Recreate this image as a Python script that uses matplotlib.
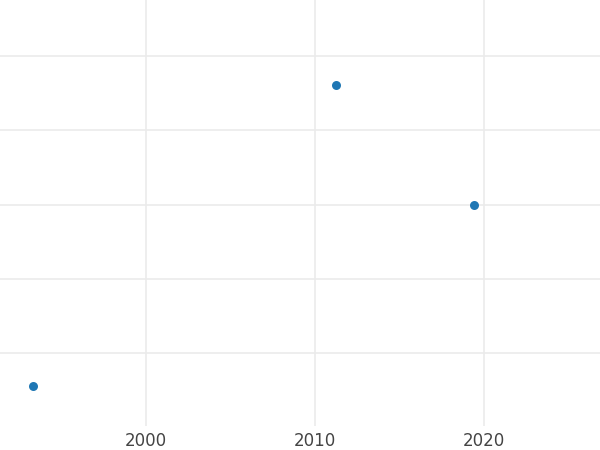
import matplotlib.pyplot as plt

years = [1993.3, 2011.25, 2019.4]
values = [-0.45, 3.61, 2.0]
xticks = [2000, 2010, 2020]
yticks = [0, 1, 2, 3, 4]

fig = plt.figure(figsize=(6, 4.5), dpi=100)
ax = fig.add_axes([0, 1 - 426 / 450, 1, 426 / 450])

ax.scatter(years, values, s=42, color='#1f77b4', zorder=3, linewidths=0)

ax.set_xlim(1991.36, 2026.86)
ax.set_ylim(-0.984, 4.757)
ax.set_xticks(xticks)
ax.set_yticks(yticks)
ax.set_yticklabels([])
ax.tick_params(length=0, labelsize=12, labelcolor='#444444', pad=4)
ax.grid(True, color='#ebebeb', linewidth=1.2)
for s in ax.spines.values():
    s.set_visible(False)

fig.savefig("out.png")
